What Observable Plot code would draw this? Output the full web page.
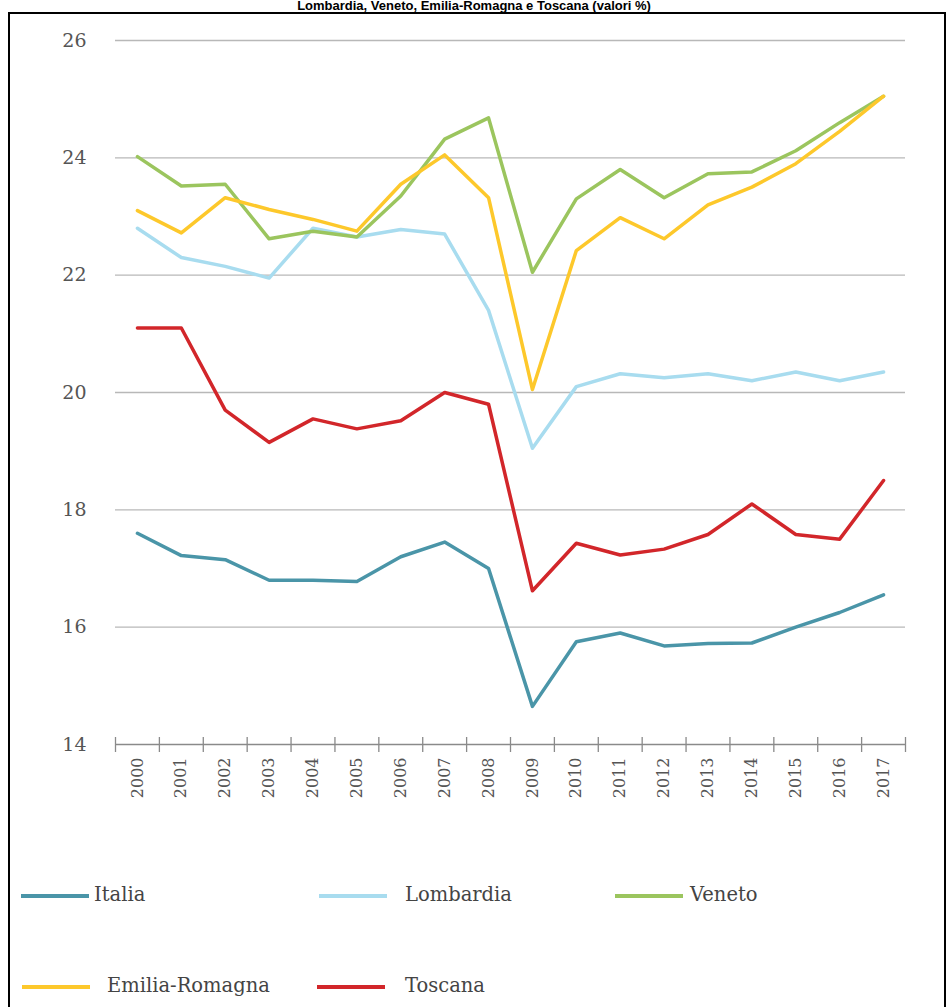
<!DOCTYPE html>
<html><head><meta charset="utf-8">
<script src="https://cdn.jsdelivr.net/npm/d3@7"></script>
<script src="https://cdn.jsdelivr.net/npm/@observablehq/plot@0.6"></script>
<style>
body{margin:0;background:#fff;width:948px;height:1007px;overflow:hidden;position:relative;font-family:"DejaVu Serif",serif}
#title{position:absolute;top:0px;left:0;width:948px;text-align:center;font:bold 13px "Liberation Sans",Arial,sans-serif;color:#000;white-space:nowrap;line-height:12px}
#frame{position:absolute;left:8px;top:12px;width:938px;height:1000px;border:2px solid #000;border-bottom:none;box-sizing:border-box;pointer-events:none}
#chart{position:absolute;left:0;top:0}
.sw{position:absolute;width:68px;height:4px}
.lt{position:absolute;font-size:19.5px;color:#444;line-height:20px}
</style></head>
<body>
<div id="title">Lombardia, Veneto, Emilia-Romagna e Toscana (valori %)</div>
<div id="frame"></div>
<div id="chart"></div>
<div id="legend"></div>
<script>
const years = [2000,2001,2002,2003,2004,2005,2006,2007,2008,2009,2010,2011,2012,2013,2014,2015,2016,2017];
const italia    = [17.6,17.22,17.15,16.8,16.8,16.78,17.2,17.45,17.0,14.65,15.75,15.9,15.68,15.72,15.73,16.0,16.25,16.55];
const lombardia = [22.8,22.3,22.15,21.95,22.8,22.65,22.78,22.7,21.4,19.05,20.1,20.32,20.25,20.32,20.2,20.35,20.2,20.35];
const veneto    = [24.02,23.52,23.55,22.62,22.75,22.65,23.35,24.32,24.68,22.05,23.3,23.8,23.32,23.73,23.76,24.12,24.6,25.05];
const emilia    = [23.1,22.72,23.32,23.12,22.95,22.75,23.55,24.05,23.32,20.05,22.42,22.98,22.62,23.2,23.5,23.9,24.45,25.05];
const toscana   = [21.1,21.1,19.7,19.15,19.55,19.38,19.52,20.0,19.8,16.62,17.43,17.23,17.33,17.58,18.1,17.58,17.5,18.5];
const seriesNames = ["Italia","Lombardia","Veneto","Emilia-Romagna","Toscana"];
const seriesColors = ["#4a95a8","#a8dcef","#9bc55e","#fdc82b","#d2262a"];
const yTicks = [14,16,18,20,22,24,26];

const seriesValues = [italia, lombardia, veneto, emilia, toscana];
const data = [];
seriesNames.forEach((name, i) => years.forEach((yr, j) => data.push({series: name, year: yr, value: seriesValues[i][j]})));
const edges = [years[0] - 0.5, ...years.map(y => y + 0.5)];

const chart = Plot.plot({
  width: 948, height: 820,
  marginLeft: 115, marginRight: 43, marginTop: 40, marginBottom: 76,
  x: {domain: [years[0] - 0.5, years[years.length - 1] + 0.5]},
  y: {domain: [14, 26]},
  color: {domain: seriesNames, range: seriesColors},
  style: {fontFamily: "DejaVu Serif, serif", background: "transparent"},
  marks: [
    Plot.gridY(yTicks.slice(1), {stroke: "#b8b8b8", strokeOpacity: 1, strokeWidth: 1.3}),
    Plot.axisY(yTicks, {tickSize: 0, tickPadding: 29, fontSize: 19, fill: "#555", label: null, tickFormat: d => String(d)}),
    Plot.ruleY([14], {stroke: "#8a8a8a", strokeWidth: 1.3}),
    Plot.ruleX(edges, {stroke: "#8a8a8a", strokeWidth: 1.3, insetTop: 697, insetBottom: -8}),
    Plot.axisX(years, {tickSize: 0, tickRotate: -90, tickPadding: 13, fontSize: 16, fill: "#555", label: null, tickFormat: d => String(d)}),
    Plot.line(data, {x: "year", y: "value", z: "series", stroke: "series", strokeWidth: 3.5, strokeLinejoin: "round"})
  ]
});
document.getElementById("chart").appendChild(chart);

const legendPos = [
  {sw: 21, tx: 94, y: 896},
  {sw: 319, tx: 405, y: 896},
  {sw: 615, tx: 690, y: 896},
  {sw: 22, tx: 107, y: 987},
  {sw: 317, tx: 405, y: 987}
];
const leg = document.getElementById("legend");
seriesNames.forEach((name, i) => {
  const p = legendPos[i];
  const s = document.createElement("div");
  s.className = "sw"; s.style.left = p.sw + "px"; s.style.top = (p.y - 2) + "px"; s.style.background = seriesColors[i];
  leg.appendChild(s);
  const t = document.createElement("div");
  t.className = "lt"; t.style.left = p.tx + "px"; t.style.top = (p.y - 11) + "px"; t.textContent = name;
  leg.appendChild(t);
});
</script>
</body></html>
